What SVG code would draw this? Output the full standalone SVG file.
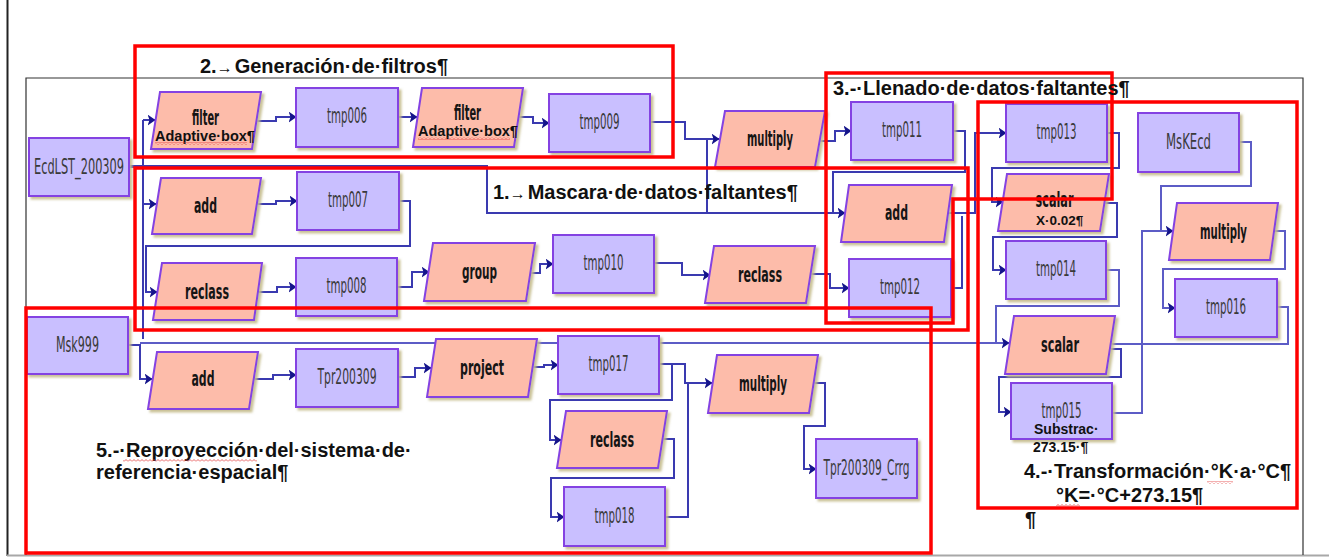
<svg xmlns="http://www.w3.org/2000/svg" width="1329" height="557" viewBox="0 0 1329 557">
  <defs>
    <style>
      .r { fill: #c9bfff; stroke: #8442e2; stroke-width: 2; filter: url(#sh); }
      .p { fill: #fdbcaa; stroke: #8442e2; stroke-width: 2; filter: url(#sh); }
      .lb { font-family: "Liberation Sans Narrow", "Arial Narrow", "DejaVu Sans Condensed", "Liberation Sans", sans-serif; font-size: 21px; fill: #3a3a3a; text-anchor: middle; }
      .lbb { font-family: "Liberation Sans Narrow", "Arial Narrow", "DejaVu Sans Condensed", "Liberation Sans", sans-serif; font-size: 21px; font-weight: bold; fill: #151515; text-anchor: middle; }
      .note { font-family: "Liberation Sans", Arial, sans-serif; font-weight: bold; font-size: 14.5px; fill: #111; }
      .hd { font-family: "Liberation Sans", Arial, sans-serif; font-weight: bold; font-size: 20px; fill: #111; }
      .c { fill: none; stroke: #3a3ab0; stroke-width: 2; }
      .cl { fill: none; stroke: #5c5cc6; stroke-width: 2; }
      .a { marker-end: url(#arr); }
      .box { fill: none; stroke: #ff0000; stroke-width: 3.5; }
      .frame { fill: none; stroke: #333; stroke-width: 1.2; }
    </style>
    <marker id="arr" viewBox="0 0 8 11" refX="7.5" refY="5.5" markerWidth="8" markerHeight="11" orient="auto" markerUnits="userSpaceOnUse">
      <path d="M0,0 L8,5.5 L0,11 L2,5.5 z" fill="#14148a"/>
    </marker>
    <filter id="sh" x="-10%" y="-10%" width="125%" height="130%">
      <feDropShadow dx="2.5" dy="2.5" stdDeviation="0.8" flood-color="#c4bb8c" flood-opacity="0.9"/>
    </filter>
    <pattern id="wave" width="4" height="3" patternUnits="userSpaceOnUse">
      <path d="M0,2.5 L2,0.5 L4,2.5" fill="none" stroke="#e23a3a" stroke-width="0.8"/>
    </pattern>
  </defs>

  <rect width="1329" height="557" fill="#ffffff"/>

  <!-- page edges and drawing frame -->
  <g id="page">
    <line x1="7.5" y1="0" x2="7.5" y2="556" stroke="#222" stroke-width="2"/>
    <line x1="7" y1="555.5" x2="1329" y2="555.5" stroke="#a8a8a8" stroke-width="2"/>
    <path class="frame" d="M26,555 V78 H1303 V555"/>
  </g>

  <!-- connectors -->
  <g id="connectors">
    <!-- EcdLST_200309 fan-out -->
    <path class="c" d="M129,167 H143 M143,120 V339"/>
    <path class="c a" d="M143,120 H155"/>
    <path class="c a" d="M143,204 H156"/>
    <path class="c a" d="M129,166 H487 V213 H845"/>
    <path class="c" d="M707,213 V139"/>
    <!-- filter chain -->
    <path class="c a" d="M256,121 H276 V117 H296"/>
    <path class="c a" d="M398,117 H417"/>
    <path class="c a" d="M518,117 H533 V123 H549"/>
    <path class="c a" d="M650,122 H685 V139 H719"/>
    <path class="c a" d="M820,141 H835 V131 H851"/>
    <path class="c" d="M953,131 H965 V172 H833 V213"/>
    <path class="c a" d="M948,213 H975 V133 H1006"/>
    <path class="c" d="M951,288 H962 V216"/>
    <!-- mask chain -->
    <path class="c a" d="M256,204 H276 V201 H297"/>
    <path class="c a" d="M399,201 H410 V246 H146 V292 H157"/>
    <path class="c a" d="M258,292 H277 V287 H296"/>
    <path class="c a" d="M397,287 H412 V272 H429"/>
    <path class="c a" d="M531,273 H540 V264 H553"/>
    <path class="c a" d="M654,263 H682 V275 H710"/>
    <path class="c a" d="M811,274 H830 V288 H849"/>
    <!-- Msk999 and reprojection chain -->
    <path class="c a" d="M128,345 H140 V379 H152"/>
    <path class="cl a" d="M140,343 H1009"/>
    <path class="c a" d="M253,379 H273 V375 H296"/>
    <path class="c a" d="M398,377 H415 V368 H431"/>
    <path class="c a" d="M533,367 H544 V365 H558"/>
    <path class="c a" d="M659,364 H685 V383 H712"/>
    <path class="c a" d="M672,364 V400 H550 V440 H561"/>
    <path class="c a" d="M662,439 H674 V478 H551 V517 H564"/>
    <path class="c" d="M665,517 H688 V383"/>
    <path class="c a" d="M812,383 H825 V426 H804 V469 H816"/>
    <!-- temperature conversion chain -->
    <path class="c a" d="M1107,133 H1119 V168 H992 V202 H1003"/>
    <path class="c a" d="M1104,203 H1117 V237 H993 V270 H1006"/>
    <path class="cl" d="M1106,270 H1119 V306 H996 V343"/>
    <path class="c a" d="M1111,349 H1121 V377 H999 V412 H1011"/>
    <path class="cl a" d="M1112,413 H1142 V231 H1173"/>
    <path class="cl" d="M1239,142 H1251 V186 H1161 V231"/>
    <path class="cl a" d="M1274,231 H1285 V269 H1163 V308 H1175"/>
    <path class="cl" d="M1277,307 H1288 V344 H1111"/>
  </g>

  <!-- nodes -->
  <g id="nodes">
    <g id="EcdLST_200309"><rect class="r" x="29" y="138" width="100" height="58"/><text class="lb" x="79" y="174" textLength="90" lengthAdjust="spacingAndGlyphs">EcdLST_200309</text></g>
    <g id="filter1"><polygon class="p" points="160,92 261,92 252,149 151,149"/><text class="lbb" x="205.5" y="125" textLength="27" lengthAdjust="spacingAndGlyphs">filter</text><text class="note" x="155" y="141">Adaptive·box¶</text></g>
    <g id="tmp006"><rect class="r" x="296" y="88" width="102" height="59"/><text class="lb" x="347" y="123" textLength="40" lengthAdjust="spacingAndGlyphs">tmp006</text></g>
    <g id="filter2"><polygon class="p" points="422,88 523,88 514,147 413,147"/><text class="lbb" x="467.5" y="120" textLength="27" lengthAdjust="spacingAndGlyphs">filter</text><text class="note" x="418" y="136">Adaptive·box¶</text></g>
    <g id="tmp009"><rect class="r" x="549" y="94" width="101" height="58"/><text class="lb" x="599.5" y="129" textLength="40" lengthAdjust="spacingAndGlyphs">tmp009</text></g>
    <g id="multiply1"><polygon class="p" points="725,111 825,111 815,167 715,167"/><text class="lbb" x="770" y="146" textLength="46" lengthAdjust="spacingAndGlyphs">multiply</text></g>
    <g id="tmp011"><rect class="r" x="851" y="102" width="102" height="58"/><text class="lb" x="902" y="137" textLength="40" lengthAdjust="spacingAndGlyphs">tmp011</text></g>
    <g id="tmp013"><rect class="r" x="1006" y="104" width="101" height="58"/><text class="lb" x="1056.5" y="139" textLength="40" lengthAdjust="spacingAndGlyphs">tmp013</text></g>
    <g id="MsKEcd"><rect class="r" x="1138" y="113" width="101" height="59"/><text class="lb" x="1188.5" y="148.5" textLength="45" lengthAdjust="spacingAndGlyphs">MsKEcd</text></g>
    <g id="scalar1"><polygon class="p" points="1007,174 1109,174 1100,231 998,231"/><text class="lbb" x="1054.5" y="207" textLength="38" lengthAdjust="spacingAndGlyphs">scalar</text><text class="note" x="1036" y="225" style="font-size:13.5px">X·0.02¶</text></g>
    <g id="add1"><polygon class="p" points="161,178 261,178 252,234 152,234"/><text class="lbb" x="205.5" y="213" textLength="23" lengthAdjust="spacingAndGlyphs">add</text></g>
    <g id="tmp007"><rect class="r" x="297" y="172" width="102" height="58"/><text class="lb" x="348" y="207" textLength="40" lengthAdjust="spacingAndGlyphs">tmp007</text></g>
    <g id="add2"><polygon class="p" points="849,185 952,185 944,242 841,242"/><text class="lbb" x="896.5" y="220" textLength="23" lengthAdjust="spacingAndGlyphs">add</text></g>
    <g id="multiply2"><polygon class="p" points="1177,203 1278,203 1270,260 1169,260"/><text class="lbb" x="1223.5" y="239" textLength="47" lengthAdjust="spacingAndGlyphs">multiply</text></g>
    <g id="reclass1"><polygon class="p" points="162,263 262,263 254,320 153,320"/><text class="lbb" x="207" y="299" textLength="44" lengthAdjust="spacingAndGlyphs">reclass</text></g>
    <g id="tmp008"><rect class="r" x="296" y="258" width="101" height="58"/><text class="lb" x="346.5" y="293" textLength="40" lengthAdjust="spacingAndGlyphs">tmp008</text></g>
    <g id="group"><polygon class="p" points="433,243 535,243 526,301 424,301"/><text class="lbb" x="479.5" y="279" textLength="35" lengthAdjust="spacingAndGlyphs">group</text></g>
    <g id="tmp010"><rect class="r" x="553" y="235" width="101" height="58"/><text class="lb" x="603.5" y="270" textLength="40" lengthAdjust="spacingAndGlyphs">tmp010</text></g>
    <g id="reclass2"><polygon class="p" points="714,246 815,246 806,303 705,303"/><text class="lbb" x="760" y="282" textLength="44" lengthAdjust="spacingAndGlyphs">reclass</text></g>
    <g id="tmp012"><rect class="r" x="849" y="259" width="102" height="58"/><text class="lb" x="900" y="294" textLength="40" lengthAdjust="spacingAndGlyphs">tmp012</text></g>
    <g id="tmp014"><rect class="r" x="1006" y="241" width="100" height="58"/><text class="lb" x="1056" y="276" textLength="40" lengthAdjust="spacingAndGlyphs">tmp014</text></g>
    <g id="tmp016"><rect class="r" x="1175" y="279" width="102" height="58"/><text class="lb" x="1226" y="314" textLength="40" lengthAdjust="spacingAndGlyphs">tmp016</text></g>
    <g id="scalar2"><polygon class="p" points="1014,316 1115,316 1106,374 1005,374"/><text class="lbb" x="1060" y="352" textLength="38" lengthAdjust="spacingAndGlyphs">scalar</text></g>
    <g id="tmp015"><rect class="r" x="1011" y="383" width="101" height="56"/><text class="lb" x="1061.5" y="418" textLength="40" lengthAdjust="spacingAndGlyphs">tmp015</text><text class="note" x="1034" y="434" style="font-size:14px">Substrac·</text><text class="note" x="1033" y="452" style="font-size:14px">273.15·¶</text></g>
    <g id="Msk999"><rect class="r" x="27" y="317" width="101" height="57"/><text class="lb" x="77.5" y="352" textLength="43" lengthAdjust="spacingAndGlyphs">Msk999</text></g>
    <g id="add3"><polygon class="p" points="157,352 258,352 249,409 148,409"/><text class="lbb" x="203" y="386" textLength="23" lengthAdjust="spacingAndGlyphs">add</text></g>
    <g id="Tpr200309"><rect class="r" x="296" y="349" width="102" height="58"/><text class="lb" x="347" y="384" textLength="59" lengthAdjust="spacingAndGlyphs">Tpr200309</text></g>
    <g id="project"><polygon class="p" points="436,339 537,339 528,397 427,397"/><text class="lbb" x="482" y="375" textLength="44" lengthAdjust="spacingAndGlyphs">project</text></g>
    <g id="tmp017"><rect class="r" x="558" y="336" width="101" height="58"/><text class="lb" x="608.5" y="371" textLength="40" lengthAdjust="spacingAndGlyphs">tmp017</text></g>
    <g id="multiply3"><polygon class="p" points="717,355 818,355 809,413 708,413"/><text class="lbb" x="763" y="391" textLength="48" lengthAdjust="spacingAndGlyphs">multiply</text></g>
    <g id="reclass3"><polygon class="p" points="566,411 667,411 658,468 557,468"/><text class="lbb" x="612" y="447" textLength="44" lengthAdjust="spacingAndGlyphs">reclass</text></g>
    <g id="tmp018"><rect class="r" x="564" y="487" width="101" height="59"/><text class="lb" x="614.5" y="522.5" textLength="40" lengthAdjust="spacingAndGlyphs">tmp018</text></g>
    <g id="Tpr200309_Crrg"><rect class="r" x="816" y="439" width="101" height="59"/><text class="lb" x="866.5" y="474.5" textLength="86" lengthAdjust="spacingAndGlyphs">Tpr200309_Crrg</text></g>
  </g>

  <!-- process stage outlines -->
  <g id="stages">
    <rect class="box" x="135" y="46" width="538" height="111"/>
    <rect class="box" x="135" y="168" width="833" height="162"/>
    <polygon class="box" points="826,73 1112,73 1112,199 953,199 953,323 826,323"/>
    <rect class="box" x="978" y="102" width="319" height="406"/>
    <rect class="box" x="26" y="308" width="905" height="245"/>
  </g>

  <!-- stage captions -->
  <g id="captions">
    <text class="hd" x="200" y="73">2.<tspan font-size="16">→</tspan><tspan dx="2">Generación·de·filtros¶</tspan></text>
    <text class="hd" x="493" y="199">1.<tspan font-size="16">→</tspan><tspan dx="2">Mascara·de·datos·faltantes¶</tspan></text>
    <text class="hd" x="833" y="95">3.-·Llenado·de·datos·faltantes¶</text>
    <text class="hd" x="96" y="457">5.-·Reproyección·del·sistema·de·</text>
    <text class="hd" x="96" y="479">referencia·espacial¶</text>
    <text class="hd" x="1024" y="478">4.-·Transformación·°K·a·°C¶</text>
    <text class="hd" x="1056" y="502">°K=·°C+273.15¶</text>
    <text class="hd" x="1025" y="526">¶</text>
  </g>

  <!-- spell-check marks -->
  <g id="spellmarks">
    <rect x="155" y="142" width="92" height="3" fill="url(#wave)"/>
    <rect x="418" y="137" width="92" height="3" fill="url(#wave)"/>
    <rect x="123" y="459" width="134" height="3" fill="url(#wave)"/>
    <rect x="1207" y="481" width="26" height="3" fill="url(#wave)"/>
    <rect x="1056" y="504" width="24" height="3" fill="url(#wave)"/>
  </g>
</svg>
